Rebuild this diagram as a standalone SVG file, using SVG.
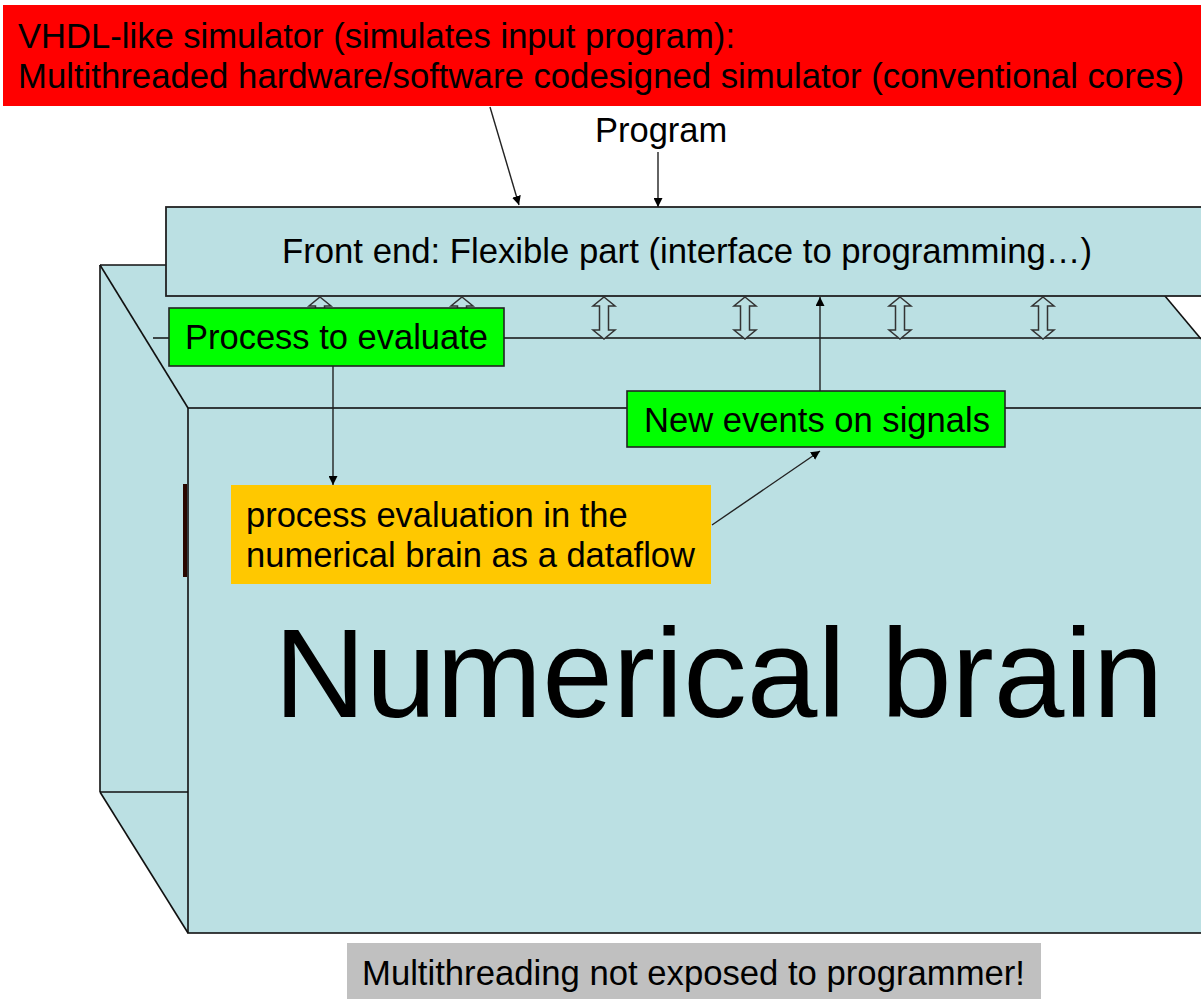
<svg xmlns="http://www.w3.org/2000/svg" xmlns:xlink="http://www.w3.org/1999/xlink" width="1201" height="999" viewBox="0 0 1201 999">
<style>
.t{font-family:"Liberation Sans",Arial,sans-serif;fill:#000}
.f34{font-size:34.5px}
.blue{fill:#BBE0E3}
.edge{fill:none;stroke:#111;stroke-width:1.6}
.box{stroke:#222;stroke-width:1.6}
.conn{stroke:#222;stroke-width:1.4;fill:none;marker-end:url(#ah)}
.dbl{fill:#BBE0E3;stroke:#333;stroke-width:1.5}
</style>
<defs>
<marker id="ah" viewBox="0 0 10 10" refX="10" refY="5" markerWidth="9" markerHeight="9" markerUnits="userSpaceOnUse" orient="auto">
<path d="M0,0 L10,5 L0,10 Z" fill="#000"/>
</marker>
<path id="darr" d="M0,297 L11,306 L4.5,306 L4.5,330 L11,330 L0,339 L-11,330 L-4.5,330 L-4.5,306 L-11,306 Z"/>
</defs>
<rect width="1201" height="999" fill="#fff"/>

<g id="title">
<rect x="3" y="5" width="1198" height="101" fill="#FF0000"/>
<text class="t f34" x="18" y="48" textLength="717" lengthAdjust="spacingAndGlyphs">VHDL-like simulator (simulates input program):</text>
<text class="t f34" x="18" y="88" textLength="1166" lengthAdjust="spacingAndGlyphs">Multithreaded hardware/software codesigned simulator (conventional cores)</text>
</g>

<g id="program-label">
<text class="t f34" x="595" y="142">Program</text>
</g>

<g id="numerical-brain">
<polygon class="blue" points="100,265 1139,265 1201,339 1201,933 188,933 100,792"/>
<line class="edge" x1="100" y1="265" x2="100" y2="792"/>
<line class="edge" x1="100" y1="265" x2="166" y2="265"/>
<line class="edge" x1="100" y1="265" x2="188" y2="408"/>
<line class="edge" x1="100" y1="792" x2="188" y2="933"/>
<line class="edge" x1="100" y1="792" x2="188" y2="792"/>
<line class="edge" x1="1139" y1="265" x2="1201" y2="339"/>
<line class="edge" x1="153" y1="338" x2="1201" y2="338"/>
<rect class="blue edge" x="188" y="408" width="1020" height="525" style="fill:#BBE0E3"/>
<rect x="183" y="484" width="4" height="93" fill="#2A0800"/>
<text class="t" x="274" y="717" font-size="127">Numerical brain</text>
</g>

<g id="front-end">
<rect x="166" y="207" width="1045" height="89" fill="#BBE0E3" stroke="#222" stroke-width="1.8"/>
<text class="t f34" x="282" y="263" textLength="810" lengthAdjust="spacingAndGlyphs">Front end: Flexible part (interface to programming…)</text>
</g>

<g id="links">
<use href="#darr" xlink:href="#darr" class="dbl" transform="translate(320,0)"/>
<use href="#darr" xlink:href="#darr" class="dbl" transform="translate(462,0)"/>
<use href="#darr" xlink:href="#darr" class="dbl" transform="translate(604,0)"/>
<use href="#darr" xlink:href="#darr" class="dbl" transform="translate(745,0)"/>
<use href="#darr" xlink:href="#darr" class="dbl" transform="translate(900,0)"/>
<use href="#darr" xlink:href="#darr" class="dbl" transform="translate(1043,0)"/>
</g>

<g id="process-to-evaluate">
<rect class="box" x="169" y="308" width="335" height="58" fill="#00FF00"/>
<text class="t f34" x="185" y="349" textLength="303" lengthAdjust="spacingAndGlyphs">Process to evaluate</text>
</g>

<g id="new-events">
<rect class="box" x="627" y="391" width="378" height="56" fill="#00FF00"/>
<text class="t f34" x="644" y="432" textLength="346" lengthAdjust="spacingAndGlyphs">New events on signals</text>
</g>

<g id="process-evaluation">
<rect x="231" y="485" width="480" height="99" fill="#FFC800"/>
<text class="t f34" x="246" y="527">process evaluation in the</text>
<text class="t f34" x="246" y="567" textLength="449" lengthAdjust="spacingAndGlyphs">numerical brain as a dataflow</text>
</g>

<g id="connectors">
<line class="conn" x1="490" y1="107" x2="519" y2="205"/>
<line class="conn" x1="658" y1="152" x2="658" y2="207"/>
<line class="conn" x1="333" y1="366" x2="333" y2="485"/>
<line class="conn" x1="712" y1="525" x2="820" y2="451"/>
<line class="conn" x1="820" y1="391" x2="820" y2="297"/>
</g>

<g id="note">
<rect x="347" y="943" width="694" height="56" fill="#C0C0C0"/>
<text class="t f34" x="362" y="985" textLength="663" lengthAdjust="spacingAndGlyphs">Multithreading not exposed to programmer!</text>
</g>
</svg>
